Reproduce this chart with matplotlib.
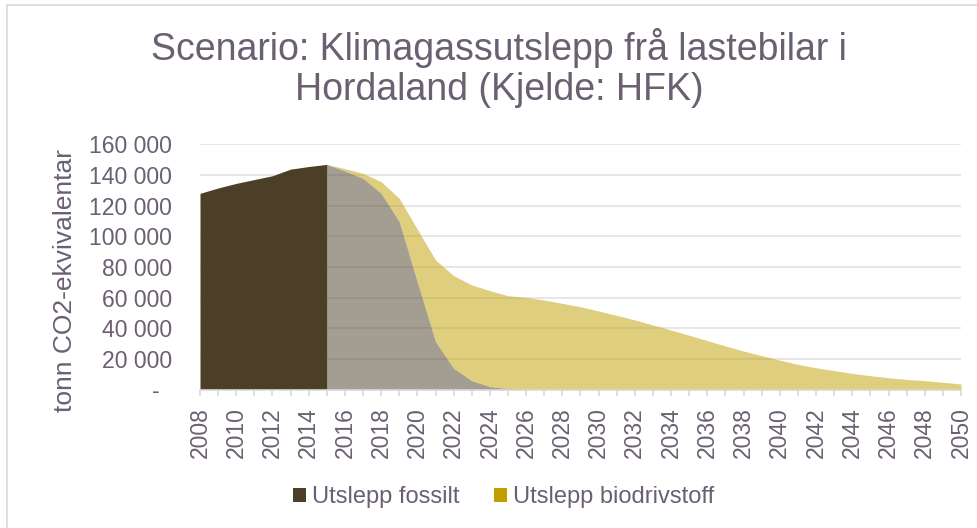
import numpy as np
import matplotlib
matplotlib.use("Agg")
import matplotlib.pyplot as plt
from matplotlib.patches import Patch, Rectangle
from matplotlib.ticker import FuncFormatter

#========================================================
# Data
#========================================================
years = np.arange(2008, 2051)

# fossil emissions, tonn CO2-ekv.  2008-2015 historic, 2016- scenario
fossil = np.array([128000, 131500, 134500, 137000, 139500, 143800, 145500, 146900,
                   142600, 137800, 128000, 109500, 70000, 31200, 13800, 5800,
                   1900, 600, 200] + [0] * 24)

bio = np.array([0, 0, 0, 0, 0, 0, 0, 0,
                1500, 3200, 7600, 15200, 34500, 53300, 60500, 62400,
                62600, 60600, 59900, 58400, 56200, 54000, 51200, 48400,
                45400, 42100, 38800, 35400, 31900, 28400, 25100, 22100,
                19200, 16400, 14200, 12300, 10500, 9000, 7700, 6600,
                5800, 4700, 3600])

last_historic = 2015
series_names = ["Utslepp fossilt", "Utslepp biodrivstoff"]

title = "Scenario: Klimagassutslepp frå lastebilar i\nHordaland (Kjelde: HFK)"
ylabel = "tonn CO2-ekvivalentar"

#========================================================
# Style
C_FOSSIL = "#4B3F27"
C_BIO = "#C29F00"
C_TEXT = "#6B5F72"
C_GRID = "#E4E1E6"
C_AXIS = "#D9D9D9"

plt.rcParams['font.family'] = ['Liberation Sans', 'DejaVu Sans']

fig = plt.figure(figsize=(9.77, 5.28), dpi=100)
ax = fig.add_axes([200 / 977, 1 - 389.5 / 528, 761 / 977, 245.2 / 528])

hist = years <= last_historic
scen = years >= last_historic
total = fossil + bio

ax.fill_between(years[hist], 0, fossil[hist], color=C_FOSSIL, lw=0, zorder=3)
ax.fill_between(years[scen], 0, fossil[scen], color=C_FOSSIL, alpha=0.5, lw=0, zorder=3)
ax.fill_between(years[scen], fossil[scen], total[scen], color=C_BIO, alpha=0.5, lw=0, zorder=3)

ax.set_xlim(years[0], years[-1])
ax.set_ylim(0, 160000)
ax.set_yticks(np.arange(0, 160001, 20000))

def fmt_y(v, pos):
    if v == 0:
        return "-  "
    return f"{int(v):,}".replace(",", " ")

ax.yaxis.set_major_formatter(FuncFormatter(fmt_y))
ax.set_xticks(years)
ax.set_xticklabels([str(y) if y % 2 == 0 else "" for y in years], rotation=90)

ax.grid(axis='y', color=C_GRID, lw=1.2, zorder=0)
for s in ["top", "right", "left"]:
    ax.spines[s].set_visible(False)
ax.spines["bottom"].set_color(C_AXIS)
ax.spines["bottom"].set_linewidth(1.2)
ax.spines["bottom"].set_zorder(4)

ax.tick_params(axis='y', length=0, pad=20, labelsize=16.6, labelcolor=C_TEXT)
ax.tick_params(axis='x', length=4, width=1.2, color=C_AXIS, pad=9,
               labelsize=16.5, labelcolor=C_TEXT)

fig.text(65 / 977, 1 - 280 / 528, ylabel, rotation=90, ha='center', va='center',
         fontsize=19, color=C_TEXT)

fig.text(499 / 977, 1 - 68 / 528, title, ha='center', va='center',
         fontsize=27, color=C_TEXT, linespacing=1.15)

handles = [Patch(facecolor=C_FOSSIL, edgecolor='none'),
           Patch(facecolor=C_BIO, edgecolor='none')]
fig.legend(handles, series_names, loc='center', bbox_to_anchor=(503.5 / 977, 1 - 497 / 528),
           ncol=2, frameon=False, fontsize=17, labelcolor=C_TEXT,
           handlelength=0.55, handleheight=0.55, handletextpad=0.25,
           columnspacing=1.45)

# chart border (Excel chart area outline)
fig.patches.append(Rectangle((6.7 / 977, -0.05), 1.05, 1.05 - 5.3 / 528,
                             transform=fig.transFigure, fill=False,
                             edgecolor=C_AXIS, lw=1.2))

plt.savefig("out.png", dpi=100)
